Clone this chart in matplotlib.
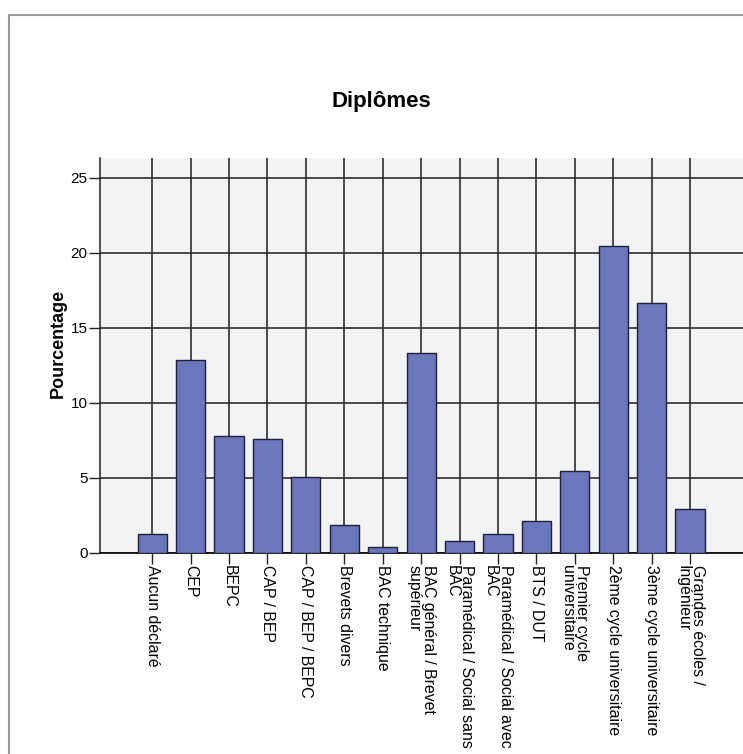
import matplotlib
matplotlib.use('Agg')
import matplotlib.pyplot as plt
from matplotlib.patches import Rectangle

plt.rcParams['font.family'] = ['Liberation Sans', 'DejaVu Sans']

# données
categories = ['Aucun déclaré', 'CEP', 'BEPC', 'CAP / BEP', 'CAP / BEP / BEPC',
              'Brevets divers', 'BAC technique', 'BAC général / Brevet\nsupérieur',
              'Paramédical / Social sans\nBAC', 'Paramédical / Social avec\nBAC',
              'BTS / DUT', 'Premier cycle\nuniversitaire', '2ème cycle universitaire',
              '3ème cycle universitaire', 'Grandes écoles /\nIngénieur']
pourcentages = [1.25, 12.87, 7.82, 7.58, 5.04, 1.87, 0.42, 13.31,
                0.82, 1.27, 2.11, 5.47, 20.47, 16.67, 2.96]
yticks = [0, 5, 10, 15, 20, 25]

fig = plt.figure(figsize=(7.43, 7.54), dpi=100)
ax = fig.add_axes([100/743, 1-553/754, 643/743, 395/754])
ax.set_facecolor('#f2f3f3')

x = list(range(len(categories)))
ax.bar(x, pourcentages, width=0.76, color='#6b77bb', edgecolor='#20203a',
       linewidth=1.0, zorder=3)

ax.set_xlim(-1.36, 15.38)
ax.set_ylim(0, 26.3)

# grille
ax.set_yticks(yticks)
ax.set_xticks(x)
ax.grid(True, color='#2e2e2e', linewidth=1.2, zorder=1)
ax.set_axisbelow(True)

ax.set_xticklabels(categories, rotation=270, ha='center', va='top',
                   fontsize=11.4, linespacing=0.95, multialignment='left')
ax.tick_params(axis='x', length=8, width=1, color='#222222', pad=0.5)
ax.tick_params(axis='y', length=8, width=1, color='#222222', pad=1, labelsize=11)

for s in ['top', 'right']:
    ax.spines[s].set_visible(False)
ax.spines['left'].set_color('#222222')
ax.spines['bottom'].set_color('#111111')
ax.spines['left'].set_linewidth(1.1)
ax.spines['bottom'].set_linewidth(1.3)

fig.text(381/743, 1-101/754, 'Diplômes', ha='center', va='center',
         fontsize=16, fontweight='bold')
fig.text(58/743, 1-343/754, 'Pourcentage', ha='center', va='center',
         rotation=90, fontsize=13, fontweight='bold')

# cadre du graphique
fig.patches.append(Rectangle((9/743, -0.1), 1.2, 1-15/754+0.1,
                             transform=fig.transFigure, fill=False,
                             edgecolor='#9a9a9a', linewidth=1.5))

plt.savefig('out.png', dpi=100)
